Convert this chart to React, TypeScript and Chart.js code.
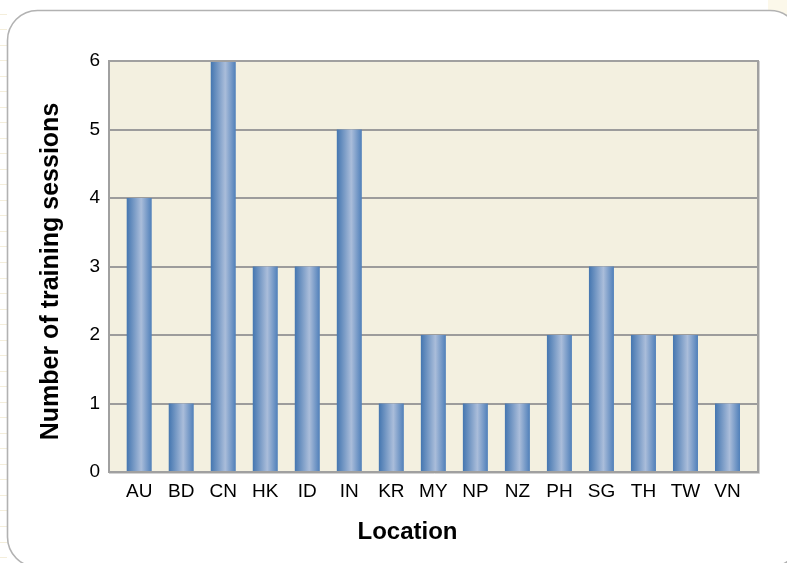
import React, { useEffect, useRef } from "react";
import { Chart, registerables } from "chart.js";

Chart.register(...registerables);

const CATEGORIES = ["AU", "BD", "CN", "HK", "ID", "IN", "KR", "MY", "NP", "NZ", "PH", "SG", "TH", "TW", "VN"];
const SESSIONS = [4, 1, 6, 3, 3, 5, 1, 2, 1, 1, 2, 3, 2, 2, 1];
const Y_TICKS = [0, 1, 2, 3, 4, 5, 6];
const X_TITLE = "Location";
const Y_TITLE = "Number of training sessions";

const FONT = "'Liberation Sans', Arial, Helvetica, sans-serif";
const BAR_PCT = 0.595;

const decorPlugin = {
  id: "decor",
  beforeDraw(chart: any) {
    const { ctx, width, height, chartArea } = chart;
    ctx.save();
    ctx.fillStyle = "#ffffff";
    ctx.fillRect(0, 0, width, height);
    // outside remnants
    ctx.fillStyle = "#fcf8ea";
    ctx.fillRect(768, 0, width - 768, 40);
    ctx.strokeStyle = "#f4eedb";
    ctx.lineWidth = 1;
    for (let y = 13.5; y < height; y += 15.53) {
      ctx.beginPath();
      ctx.moveTo(0, Math.round(y) + 0.5);
      ctx.lineTo(7, Math.round(y) + 0.5);
      ctx.stroke();
    }
    // rounded frame
    const fx = 7.5, fy = 10.5, fw = 800 - 7.5, fh = 567 - 10.5, r = 30;
    ctx.beginPath();
    ctx.moveTo(fx + r, fy);
    ctx.lineTo(fx + fw - r, fy);
    ctx.arcTo(fx + fw, fy, fx + fw, fy + r, r);
    ctx.lineTo(fx + fw, fy + fh - r);
    ctx.arcTo(fx + fw, fy + fh, fx + fw - r, fy + fh, r);
    ctx.lineTo(fx + r, fy + fh);
    ctx.arcTo(fx, fy + fh, fx, fy + fh - r, r);
    ctx.lineTo(fx, fy + r);
    ctx.arcTo(fx, fy, fx + r, fy, r);
    ctx.closePath();
    ctx.fillStyle = "#ffffff";
    ctx.fill();
    ctx.strokeStyle = "#b2b2b2";
    ctx.lineWidth = 1.6;
    ctx.stroke();
    // plot background
    ctx.fillStyle = "#f3f0e0";
    ctx.fillRect(chartArea.left, chartArea.top, chartArea.right - chartArea.left, chartArea.bottom - chartArea.top);
    ctx.restore();
  },
  afterDraw(chart: any) {
    const { ctx, chartArea } = chart;
    ctx.save();
    // plot border
    ctx.strokeStyle = "#d2d2d2";
    ctx.lineWidth = 1;
    ctx.beginPath();
    ctx.moveTo(chartArea.right + 1.5, chartArea.top);
    ctx.lineTo(chartArea.right + 1.5, chartArea.bottom + 1.5);
    ctx.lineTo(chartArea.left, chartArea.bottom + 1.5);
    ctx.stroke();
    ctx.strokeStyle = "#a0a0a0";
    ctx.lineWidth = 2;
    ctx.strokeRect(chartArea.left, chartArea.top, chartArea.right - chartArea.left, chartArea.bottom - chartArea.top);
    // titles
    ctx.fillStyle = "#000000";
    ctx.font = `bold 24px ${FONT}`;
    ctx.textAlign = "center";
    ctx.textBaseline = "alphabetic";
    ctx.fillText(X_TITLE, 407.5, 539);
    ctx.translate(58, 271.5);
    ctx.rotate(-Math.PI / 2);
    ctx.font = `bold 25px ${FONT}`;
    ctx.fillText(Y_TITLE, 0, 0);
    ctx.restore();
  },
};

export default function App() {
  const ref = useRef<HTMLCanvasElement | null>(null);

  useEffect(() => {
    if (!ref.current) return;
    const chart = new Chart(ref.current, {
      type: "bar",
      data: {
        datasets: [
          {
            data: SESSIONS.map((v, i) => ({ x: i, y: v })),
            backgroundColor: (c: any) => {
              const xs = c.chart.scales?.x;
              if (!xs || c.type !== "data") return "#7094c4";
              const center = xs.getPixelForValue(c.dataIndex);
              const w = (xs.getPixelForValue(1) - xs.getPixelForValue(0)) * BAR_PCT;
              if (!isFinite(center) || !isFinite(w)) return "#7094c4";
              const g = c.chart.ctx.createLinearGradient(center - w / 2, 0, center + w / 2, 0);
              g.addColorStop(0, "#4476b0");
              g.addColorStop(0.58, "#aabdda");
              g.addColorStop(1, "#4f7fb9");
              return g;
            },
            borderWidth: 0,
            barPercentage: BAR_PCT,
            categoryPercentage: 1,
          },
        ],
      },
      options: {
        responsive: false,
        animation: false,
        devicePixelRatio: 1,
        layout: { padding: { left: 0, top: 61, right: 29, bottom: 0 } },
        plugins: { legend: { display: false }, tooltip: { enabled: false }, title: { display: false } },
        scales: {
          x: {
            type: "linear",
            min: -0.7187,
            max: 14.726,
            offset: false,
            grid: { display: false, drawTicks: false },
            border: { display: false },
            afterBuildTicks: (s: any) => {
              s.ticks = CATEGORIES.map((_, i) => ({ value: i }));
            },
            afterFit: (s: any) => {
              s.height = 91;
            },
            ticks: {
              autoSkip: false,
              maxRotation: 0,
              minRotation: 0,
              padding: 8,
              color: "#000000",
              font: { family: FONT, size: 19 },
              callback: (v: any) => CATEGORIES[Math.round(Number(v))] ?? "",
            },
          },
          y: {
            min: 0,
            max: 6,
            afterBuildTicks: (s: any) => {
              s.ticks = Y_TICKS.map((v) => ({ value: v }));
            },
            afterFit: (s: any) => {
              s.width = 109;
            },
            grid: { color: "#9c9c9c", lineWidth: 2, drawTicks: false },
            border: { display: false },
            ticks: {
              padding: 9,
              color: "#000000",
              font: { family: FONT, size: 19 },
            },
          },
        },
      },
      plugins: [decorPlugin],
    } as any);
    return () => chart.destroy();
  }, []);

  return (
    <div style={{ position: "absolute", left: 0, top: 0, width: 787, height: 563 }}>
      <canvas ref={ref} width={787} height={563} style={{ width: 787, height: 563, display: "block" }} />
    </div>
  );
}
